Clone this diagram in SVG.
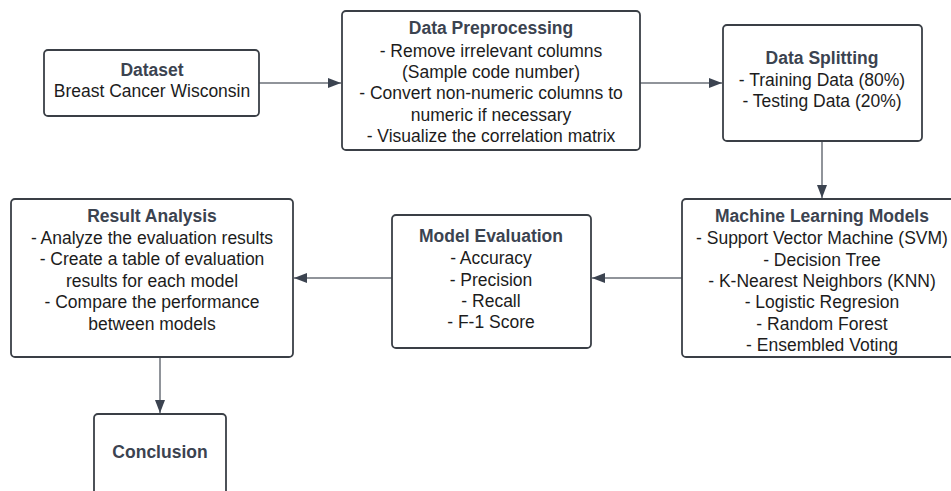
<svg xmlns="http://www.w3.org/2000/svg" width="951" height="491" viewBox="0 0 951 491">
<defs>
<style>
.box{fill:#ffffff;stroke:#3a3f46;stroke-width:1.8}
.t{font-family:"Liberation Sans",Arial,sans-serif;font-size:17.5px;font-weight:bold;fill:#3b4350;text-anchor:middle}
.b{font-family:"Liberation Sans",Arial,sans-serif;font-size:17.5px;fill:#1c1c1c;text-anchor:middle}
.c{stroke:#6b7078;stroke-width:1.5;fill:none}
</style>
<marker id="ah" markerWidth="14" markerHeight="12" refX="13" refY="6" orient="auto" markerUnits="userSpaceOnUse">
<path d="M0,1 L13,6 L0,11 Z" fill="#3b4350"/>
</marker>
</defs>
<rect width="951" height="491" fill="#ffffff"/>
<g id="connectors">
<line class="c" x1="259" y1="83" x2="341" y2="83" marker-end="url(#ah)"/>
<line class="c" x1="640" y1="83" x2="722" y2="83" marker-end="url(#ah)"/>
<line class="c" x1="822" y1="141" x2="822" y2="198" marker-end="url(#ah)"/>
<line class="c" x1="682" y1="278" x2="592" y2="278" marker-end="url(#ah)"/>
<line class="c" x1="392" y1="278" x2="294" y2="278" marker-end="url(#ah)"/>
<line class="c" x1="160" y1="357" x2="160" y2="413" marker-end="url(#ah)"/>
</g>
<g id="dataset">
<rect class="box" x="44" y="50" width="215" height="66" rx="4"/>
<text class="t" x="152" y="76">Dataset</text>
<text class="b" x="152" y="97">Breast Cancer Wisconsin</text>
</g>
<g id="preprocessing">
<rect class="box" x="342" y="11" width="298" height="139" rx="4"/>
<text class="t" x="491" y="34">Data Preprocessing</text>
<text class="b" x="491" y="57">- Remove irrelevant columns</text>
<text class="b" x="491" y="78">(Sample code number)</text>
<text class="b" x="491" y="99">- Convert non-numeric columns to</text>
<text class="b" x="491" y="121">numeric if necessary</text>
<text class="b" x="491" y="142">- Visualize the correlation matrix</text>
</g>
<g id="splitting">
<rect class="box" x="723" y="25" width="199" height="116" rx="4"/>
<text class="t" x="822" y="64">Data Splitting</text>
<text class="b" x="822" y="86">- Training Data (80%)</text>
<text class="b" x="822" y="107">- Testing Data (20%)</text>
</g>
<g id="ml-models">
<rect class="box" x="682" y="199" width="280" height="158" rx="4"/>
<text class="t" x="822" y="222">Machine Learning Models</text>
<text class="b" x="822" y="244">- Support Vector Machine (SVM)</text>
<text class="b" x="822" y="266">- Decision Tree</text>
<text class="b" x="822" y="287">- K-Nearest Neighbors (KNN)</text>
<text class="b" x="822" y="308">- Logistic Regresion</text>
<text class="b" x="822" y="330">- Random Forest</text>
<text class="b" x="822" y="351">- Ensembled Voting</text>
</g>
<g id="evaluation">
<rect class="box" x="392" y="215" width="199" height="133" rx="4"/>
<text class="t" x="491" y="242">Model Evaluation</text>
<text class="b" x="491" y="264">- Accuracy</text>
<text class="b" x="491" y="286">- Precision</text>
<text class="b" x="491" y="307">- Recall</text>
<text class="b" x="491" y="328">- F-1 Score</text>
</g>
<g id="result-analysis">
<rect class="box" x="11" y="199" width="282" height="158" rx="4"/>
<text class="t" x="152" y="222">Result Analysis</text>
<text class="b" x="152" y="244">- Analyze the evaluation results</text>
<text class="b" x="152" y="265">- Create a table of evaluation</text>
<text class="b" x="152" y="287">results for each model</text>
<text class="b" x="152" y="308">- Compare the performance</text>
<text class="b" x="152" y="330">between models</text>
</g>
<g id="conclusion">
<rect class="box" x="94" y="414" width="132" height="100" rx="4"/>
<text class="t" x="160" y="458">Conclusion</text>
</g>
</svg>
